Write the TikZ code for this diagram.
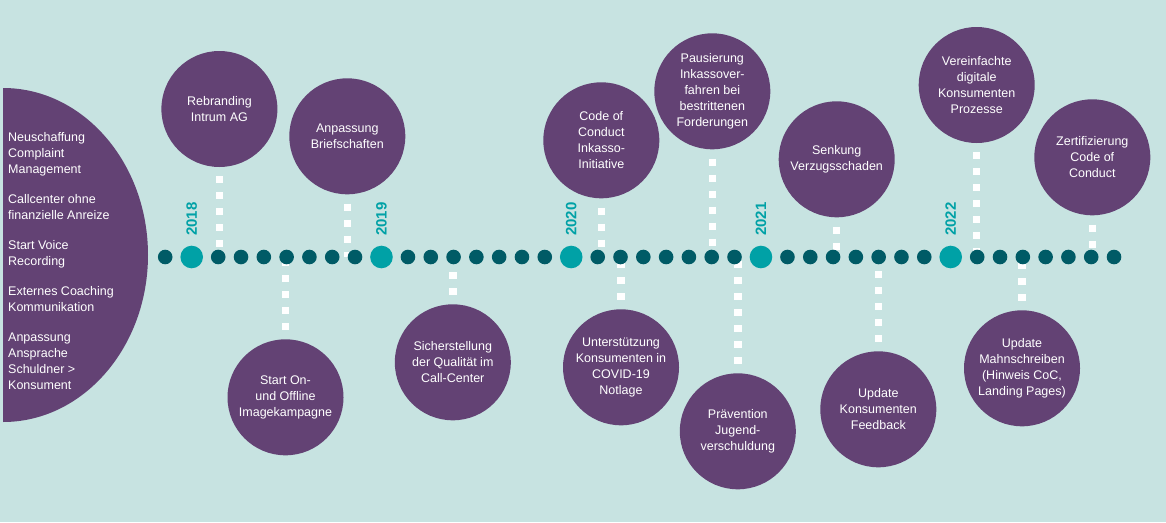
\documentclass[tikz,border=0pt]{standalone}
\usepackage{fontspec}
\setmainfont{Liberation Sans}
\definecolor{bgteal}{HTML}{C7E3E1}
\definecolor{plum}{HTML}{634274}
\definecolor{deepteal}{HTML}{005B66}
\definecolor{yearteal}{HTML}{00A1A6}

\begin{document}
\begin{tikzpicture}[x=1pt,y=-1pt,
  event/.style={circle,fill=plum,text=white,minimum size=116pt,inner sep=0pt,
    align=center,font=\fontsize{12.5}{16}\selectfont},
  dot/.style={circle,fill=deepteal,minimum size=14.6pt,inner sep=0pt},
  yeardot/.style={circle,fill=yearteal,minimum size=22.6pt,inner sep=0pt},
  yearlabel/.style={rotate=90,anchor=west,inner sep=0pt,text=yearteal,
    font=\fontsize{15}{15}\selectfont\bfseries},
  link/.style={draw=white,line width=7.5pt,dash pattern=on 7pt off 9pt,dash phase=7pt}]

\useasboundingbox (0,0) rectangle (1166,522);
\fill[bgteal] (0,0) rectangle (1166,522);

% left block
\fill[plum] (3,88) arc[start angle=-90,end angle=90,x radius=145,y radius=167] -- cycle;
\node[anchor=west,align=left,inner sep=0pt,text=white,font=\fontsize{12.5}{16}\selectfont]
  (intro) at (8,261) {Neuschaffung\\Complaint\\Management\\[14pt]Callcenter ohne\\finanzielle Anreize\\[14pt]Start Voice\\Recording\\[14pt]Externes Coaching\\Kommunikation\\[14pt]Anpassung\\Ansprache\\Schuldner >\\Konsument};

% events above the line
\node[event] (rebrand) at (219.4,109) {Rebranding\\Intrum AG};
\node[event] (brief) at (347.3,136.3) {Anpassung\\Briefschaften};
\node[event] (coc) at (601.3,140.3) {Code of\\Conduct\\Inkasso-\\Initiative};
\node[event] (pause) at (712.3,91.3) {Pausierung\\Inkassover-\\fahren bei\\bestrittenen\\Forderungen};
\node[event] (senk) at (836.7,159.3) {Senkung\\Verzugsschaden};
\node[event] (digital) at (976.7,85) {Vereinfachte\\digitale\\Konsumenten\\Prozesse};
\node[event] (zert) at (1092.3,157.3) {Zertifizierung\\Code of\\Conduct};

% events below the line
\node[event] (image) at (285.5,397.3) {Start On-\\und Offline\\Imagekampagne};
\node[event] (quali) at (452.8,362.3) {Sicherstellung\\der Qualität im\\Call-Center};
\node[event] (covid) at (621,367.3) {Unterstützung\\Konsumenten in\\COVID-19\\Notlage};
\node[event] (jugend) at (737.8,431.3) {Prävention\\Jugend-\\verschuldung};
\node[event] (feedback) at (878.3,409.3) {Update\\Konsumenten\\Feedback};
\node[event] (mahn) at (1022,368.3) {Update\\Mahnschreiben\\(Hinweis CoC,\\Landing Pages)};

% dotted links to the time line
\coordinate (axis) at (0,257);
\foreach \ev in {rebrand,brief,coc,pause,senk,digital,zert,image,quali,covid,jugend,feedback,mahn}
  \draw[link] (\ev) -- (\ev |- axis);

% time line
\node[dot] (d0) at (165.2,257) {};
\foreach \yr [count=\k from 0] in {2018,2019,2020,2021,2022} {
  \pgfmathsetmacro\yx{191.7+189.75*\k}
  \node[yeardot] (y\yr) at (\yx,257) {};
  \node[yearlabel] (l\yr) at (\yx,236) {\yr};
  \foreach \j in {0,...,6}
    \node[dot] (s\yr-\j) at ({\yx+26.5+22.8*\j},257) {};
}

\end{tikzpicture}
\end{document}
